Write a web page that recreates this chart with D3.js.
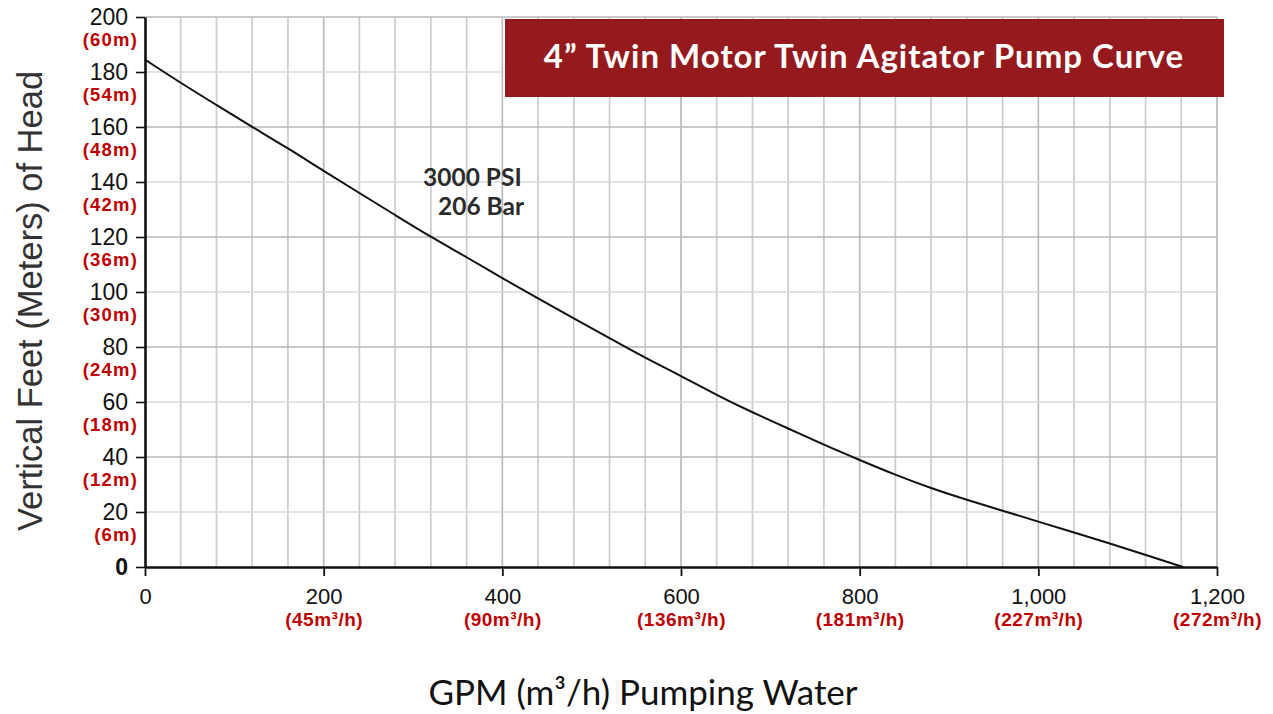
<!DOCTYPE html>
<html>
<head>
<meta charset="utf-8">
<script src="https://cdn.jsdelivr.net/npm/d3@7"></script>
<style>
  body { margin: 0; background: #fff; }
  svg { display: block; }
</style>
</head>
<body>
<svg id="chart"></svg>
<script>
// pump curve
var gpm = [0, 40, 80, 120, 160, 200, 240, 280, 320, 360, 400, 440, 480, 520, 560, 600,
  640, 680, 720, 760, 800, 840, 880, 920, 960, 1000, 1040, 1080, 1120, 1162];
var headFt = [184.5, 176, 168, 160, 152.3, 144, 136, 128, 120, 112.7, 105, 97.7, 90.4, 83.2, 76, 69.5,
  62.5, 56.2, 50.4, 44.4, 38.9, 33.5, 28.6, 24.4, 20.5, 16.5, 12.5, 8.6, 4.4, 0];

var yTicks = [0, 20, 40, 60, 80, 100, 120, 140, 160, 180, 200];
var yMeters = ["", "(6m)", "(12m)", "(18m)", "(24m)", "(30m)", "(36m)", "(42m)", "(48m)", "(54m)", "(60m)"];

var xTicks = [0, 200, 400, 600, 800, 1000, 1200];
var xLabels = ["0", "200", "400", "600", "800", "1,000", "1,200"];
var xM3h = ["", "45", "90", "136", "181", "227", "272"];

var titleText = "4\u201D Twin Motor Twin Agitator Pump Curve";
var noteLines = ["3000 PSI", "206 Bar"];

var width = 1273, height = 714;
var margin = {top: 17, right: 56, bottom: 147, left: 145};

var red = "#c00000";

var svg = d3.select("#chart")
  .attr("width", width)
  .attr("height", height);

var x = d3.scaleLinear()
  .domain([0, 1200])
  .range([margin.left, width - margin.right]);

var y = d3.scaleLinear()
  .domain([0, 200])
  .range([height - margin.bottom, margin.top]);

// grid
var grid = svg.append("g");

grid.selectAll(".vg")
  .data(d3.range(40, 1201, 40))
  .join("line")
    .attr("x1", d => x(d)).attr("x2", d => x(d))
    .attr("y1", y(0)).attr("y2", y(200))
    .attr("stroke", d => d % 200 == 0 ? "#bababa" : "#cbcbcb")
    .attr("stroke-width", 1.7);

grid.selectAll(".hg")
  .data(d3.range(20, 201, 20))
  .join("line")
    .attr("x1", x(0)).attr("x2", x(1200))
    .attr("y1", d => y(d)).attr("y2", d => y(d))
    .attr("stroke", d => d % 40 == 0 ? "#b8b8b8" : "#dadada")
    .attr("stroke-width", 1.7);

// curve
var pts = gpm.map((g, i) => [g, headFt[i]]);
svg.append("path")
  .datum(pts)
  .attr("fill", "none")
  .attr("stroke", "#111")
  .attr("stroke-width", 2)
  .attr("d", d3.line().x(d => x(d[0])).y(d => y(d[1])).curve(d3.curveBasis));

// y axis
var yAxis = svg.append("g")
  .attr("transform", `translate(${x(0)},0)`)
  .call(d3.axisLeft(y).tickValues(yTicks).tickSize(9).tickPadding(8).tickSizeOuter(0));

yAxis.select(".domain").attr("stroke", "#111").attr("stroke-width", 2.6);
yAxis.selectAll(".tick line").attr("stroke", "#111").attr("stroke-width", 1.6);
yAxis.selectAll(".tick text")
  .attr("font-family", "Liberation Sans, Arial, sans-serif")
  .attr("font-size", 23)
  .attr("fill", "#111")
  .attr("x", -17)
  .attr("font-weight", d => d == 0 ? "bold" : "normal");

yAxis.selectAll(".tick")
  .append("text")
    .attr("x", -7)
    .attr("y", 22)
    .attr("dy", "0.35em")
    .attr("text-anchor", "end")
    .attr("fill", red)
    .attr("font-family", "Liberation Sans, Arial, sans-serif")
    .attr("font-weight", "bold")
    .attr("font-size", 18.5)
    .attr("letter-spacing", 1.2)
    .text(d => yMeters[yTicks.indexOf(d)]);

// x axis
var xAxis = svg.append("g")
  .attr("transform", `translate(0,${y(0)})`)
  .call(d3.axisBottom(x).tickValues(xTicks).tickSize(9).tickPadding(12).tickSizeOuter(0)
    .tickFormat((d, i) => xLabels[i]));

xAxis.select(".domain").attr("stroke", "#111").attr("stroke-width", 2.6);
xAxis.selectAll(".tick line").attr("stroke", "#111").attr("stroke-width", 1.8);
xAxis.selectAll(".tick text")
  .attr("font-family", "Liberation Sans, Arial, sans-serif")
  .attr("font-size", 22)
  .attr("fill", "#111")
  .attr("y", 37)
  .attr("dy", 0);

xAxis.selectAll(".tick")
  .append("text")
    .attr("y", 59)
    .attr("text-anchor", "middle")
    .attr("fill", red)
    .attr("font-family", "Liberation Sans, Arial, sans-serif")
    .attr("font-weight", "bold")
    .attr("font-size", 19)
    .attr("letter-spacing", 0.5)
    .text(d => {
      var v = xM3h[xTicks.indexOf(d)];
      return v ? "(" + v + "m\u00B3/h)" : "";
    });

// axis titles
svg.append("text")
  .attr("transform", `translate(30,${301}) rotate(-90)`)
  .attr("text-anchor", "middle")
  .attr("dy", "0.35em")
  .attr("font-family", "Liberation Sans, Arial, sans-serif")
  .attr("font-size", 34.5)
  .attr("fill", "#333")
  .text("Vertical Feet (Meters) of Head");

svg.append("text")
  .attr("x", 643)
  .attr("y", 693)
  .attr("dy", "0.35em")
  .attr("text-anchor", "middle")
  .attr("font-family", "Lato, Open Sans, sans-serif")
  .attr("font-size", 35)
  .attr("fill", "#111")
  .text("GPM (m\u00B3/h) Pumping Water");

// title box
svg.append("rect")
  .attr("x", 505).attr("y", 19)
  .attr("width", 719).attr("height", 78)
  .attr("fill", "#951a1e");

svg.append("text")
  .attr("x", 864)
  .attr("y", 56)
  .attr("dy", "0.35em")
  .attr("text-anchor", "middle")
  .attr("font-family", "Lato, Open Sans, sans-serif")
  .attr("font-weight", "bold")
  .attr("font-size", 33)
  .attr("letter-spacing", 1)
  .attr("fill", "#fff")
  .text(titleText);

// pressure note
svg.append("g")
  .selectAll("text")
  .data(noteLines)
  .join("text")
    .attr("x", (d, i) => 423 + i * 15)
    .attr("y", (d, i) => 177 + i * 29)
    .attr("dy", "0.35em")
    .attr("font-family", "Lato, Open Sans, sans-serif")
    .attr("font-weight", "bold")
    .attr("font-size", 24.5)
    .attr("fill", "#2b2b2b")
    .text(d => d);
</script>
</body>
</html>
